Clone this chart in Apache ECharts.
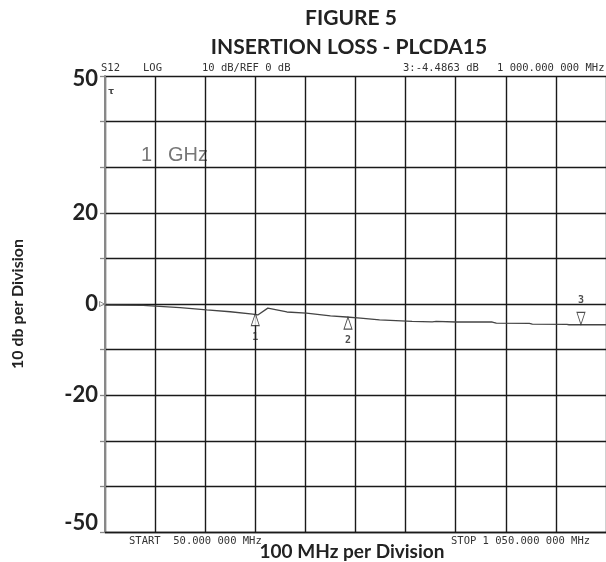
<!DOCTYPE html>
<html>
<head>
<meta charset="utf-8">
<script src="https://cdn.jsdelivr.net/npm/echarts@6/dist/echarts.min.js"></script>
<style>
html,body{margin:0;padding:0;background:#fff;}
#chart{width:606px;height:562px;}
</style>
</head>
<body>
<div id="chart"></div>
<script>
// ---- data ----
const START_MHZ = 50;
const STOP_MHZ = 1050;
const freqMHz = [50, 126, 128, 200, 253, 300, 345, 355, 375, 413, 452, 500, 532, 560, 598, 663, 703, 711, 751, 823, 831, 897, 903, 972, 976, 1050];
const lossDb  = [-0.25, -0.3, -0.4, -0.8, -1.3, -1.7, -2.2, -2.4, -0.9, -1.75, -2.0, -2.6, -2.85, -3.1, -3.5, -3.8, -3.9, -3.8, -3.95, -3.95, -4.2, -4.25, -4.4, -4.45, -4.55, -4.55];
const markerIds  = ['1', '2', '3'];
const markerFreq = [350, 535, 1000];
const markerDb   = [-2.1, -2.9, -4.4863];
const yTickLabels = [50, 20, 0, -20, -50];

// ---- build ----
const traceData = freqMHz.map((f, i) => [f - START_MHZ, lossDb[i]]);
const upMarkers = [], downMarkers = [];
markerIds.forEach((id, i) => {
  const item = { value: [markerFreq[i] - START_MHZ, markerDb[i]], name: id };
  if (i < 2) upMarkers.push(item); else downMarkers.push(item);
});

const chart = echarts.init(document.getElementById('chart'));
const mono = 'DejaVu Sans Mono';
const smallTxt = (text, x, y) => ({
  type: 'text', x: x, y: y,
  style: { text: text, font: '10.5px "' + mono + '"', fill: '#333', textVerticalAlign: 'middle' }
});

chart.setOption({
  animation: false,
  backgroundColor: '#fff',
  grid: { left: 105, top: 76, width: 502, height: 456 },
  xAxis: {
    type: 'value', min: 0, max: STOP_MHZ - START_MHZ, interval: 100,
    axisLine: { show: true, onZero: false, lineStyle: { color: '#1a1a1a', width: 1.4 } },
    axisTick: { show: false },
    axisLabel: { show: false },
    splitLine: { show: true, lineStyle: { color: '#1a1a1a', width: 1.4 } }
  },
  yAxis: {
    type: 'value', min: -50, max: 50, interval: 10,
    name: '10 db per Division', nameLocation: 'middle', nameRotate: 90, nameGap: 79,
    nameTextStyle: { fontFamily: 'Lato', fontWeight: 'bold', fontSize: 16, color: '#222' },
    axisLine: { show: true, lineStyle: { color: '#888', width: 2 } },
    axisTick: { show: true, inside: false, length: 5, lineStyle: { color: '#888', width: 1.3 } },
    axisLabel: {
      show: true, margin: 7, showMinLabel: true, showMaxLabel: true,
      fontFamily: 'Lato', fontWeight: 'bold', fontSize: 22, color: '#222',
      formatter: function (v) {
        if (yTickLabels.indexOf(v) < 0) return '';
        if (v === 50) return '{t|' + v + '}';
        if (v === -50) return '{b|' + v + '}';
        return String(v);
      },
      rich: {
        t: { fontFamily: 'Lato', fontWeight: 'bold', fontSize: 22, color: '#222', padding: [6, 0, 0, 0] },
        b: { fontFamily: 'Lato', fontWeight: 'bold', fontSize: 22, color: '#222', padding: [0, 0, 18, 0] }
      }
    },
    splitLine: { show: true, lineStyle: { color: '#1a1a1a', width: 1.4 } }
  },
  series: [
    {
      type: 'line', data: traceData, showSymbol: false, symbol: 'none',
      lineStyle: { color: '#444', width: 1.3 }, z: 3
    },
    {
      type: 'scatter', data: upMarkers, symbol: 'triangle', symbolSize: [8, 12], symbolOffset: [0, 6],
      itemStyle: { color: '#fff', borderColor: '#222', borderWidth: 1 },
      label: { show: true, position: 'bottom', distance: 0, offset: [0, 6], formatter: '{b}', fontFamily: mono, fontWeight: 'bold', fontSize: 10, color: '#222' },
      z: 4
    },
    {
      type: 'scatter', data: downMarkers, symbol: 'triangle', symbolRotate: 180, symbolSize: [8, 12], symbolOffset: [0, -6],
      itemStyle: { color: '#fff', borderColor: '#222', borderWidth: 1 },
      label: { show: true, position: 'top', distance: 0, offset: [0, -6], formatter: '{b}', fontFamily: mono, fontWeight: 'bold', fontSize: 10, color: '#222' },
      z: 4
    },
    {
      type: 'scatter', data: [[0, 0]], symbol: 'triangle', symbolRotate: -90, symbolSize: 5, symbolOffset: [-3, 0],
      itemStyle: { color: '#fff', borderColor: '#777', borderWidth: 1 }, z: 5
    }
  ],
  graphic: [
    { type: 'text', x: 351, y: 18, style: { text: 'FIGURE 5', font: 'bold 21px Lato', fill: '#222', textAlign: 'center', textVerticalAlign: 'middle' } },
    { type: 'text', x: 349, y: 47, style: { text: 'INSERTION LOSS - PLCDA15', font: 'bold 21px Lato', fill: '#222', textAlign: 'center', textVerticalAlign: 'middle' } },
    { type: 'text', x: 352, y: 552, style: { text: '100 MHz per Division', font: 'bold 19px Lato', fill: '#222', textAlign: 'center', textVerticalAlign: 'middle' } },
    smallTxt('S12', 101, 68),
    smallTxt('LOG', 143, 68),
    smallTxt('10 dB/REF 0 dB', 202, 68),
    smallTxt('3:-4.4863 dB', 403, 68),
    smallTxt('1 000.000 000 MHz', 497, 68),
    smallTxt('START  50.000 000 MHz', 129, 541),
    smallTxt('STOP 1 050.000 000 MHz', 451, 541),
    { type: 'text', x: 152, y: 155, style: { text: '1', font: '20px "Liberation Sans"', fill: '#777', textAlign: 'right', textVerticalAlign: 'middle' } },
    { type: 'text', x: 168, y: 155, style: { text: 'GHz', font: '20px "Liberation Sans"', fill: '#777', textAlign: 'left', textVerticalAlign: 'middle' } },
    { type: 'text', x: 111, y: 92, style: { text: '\u03c4', font: 'bold 9px "DejaVu Sans"', fill: '#444', textAlign: 'center', textVerticalAlign: 'middle' } }
  ]
});
</script>
</body>
</html>
